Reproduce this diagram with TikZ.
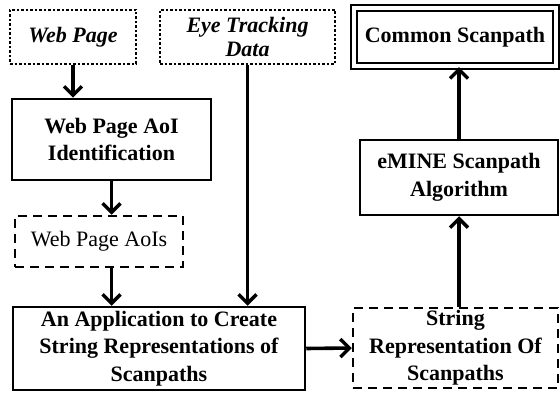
\documentclass[tikz,border=0pt]{standalone}
\usepackage{fontspec}
\setmainfont{Liberation Serif}
\usetikzlibrary{arrows.meta}
\begin{document}
\begin{tikzpicture}[x=1pt,y=-1pt,
  box/.style={draw, line width=2.5pt, inner sep=0pt, align=center, font=\fontsize{22}{27.5}\selectfont\bfseries},
  dotbox/.style={box, dotted, line width=2.6pt},
  dashbox/.style={box, dash pattern=on 9pt off 6pt},
  arr/.style={line width=3.6pt, -{Straight Barb[length=9pt,width=18pt,line width=3.4pt]}}]
\useasboundingbox (0,0) rectangle (560,393);
\node[dotbox, minimum width=126pt, minimum height=54pt, font=\fontsize{22}{27}\selectfont\bfseries\itshape] (wp) at (73,37) {Web Page};
\node[dotbox, minimum width=175pt, minimum height=54pt, font=\fontsize{22}{24}\selectfont\bfseries\itshape] (et) at (247.5,37) {Eye Tracking\\Data};
\node[box, double=white, double distance=3.5pt, line width=2.2pt, minimum width=202pt, minimum height=58pt] (cs) at (455,37) {Common Scanpath};
\node[box, minimum width=199pt, minimum height=81pt] (aoiid) at (111.5,139.5) {Web Page AoI\\Identification};
\node[box, minimum width=198pt, minimum height=75pt] (em) at (459,177.5) {eMINE Scanpath\\Algorithm};
\node[dashbox, minimum width=168pt, minimum height=51pt, font=\fontsize{22}{27}\selectfont] (aois) at (99,241.5) {Web Page AoIs};
\node[box, minimum width=292pt, minimum height=83pt] (app) at (159,348.5) {An Application to Create\\String Representations of\\Scanpaths};
\node[dashbox, minimum width=205pt, minimum height=80pt] (sr) at (455.5,348) {String\\Representation Of\\Scanpaths};
\draw[arr] (wp.south) -- (wp.south |- aoiid.north);
\draw[arr] (aoiid.south) -- (aoiid.south |- aois.north);
\draw[arr] (aoiid.south |- aois.south) -- (aoiid.south |- app.north);
\draw[arr] (et.south) -- (et.south |- app.north);
\draw[arr] (app.east) -- (sr.west);
\draw[arr] (em.south |- sr.north) -- (em.south);
\draw[arr] (em.north) -- (em.north |- cs.south);
\end{tikzpicture}
\end{document}
